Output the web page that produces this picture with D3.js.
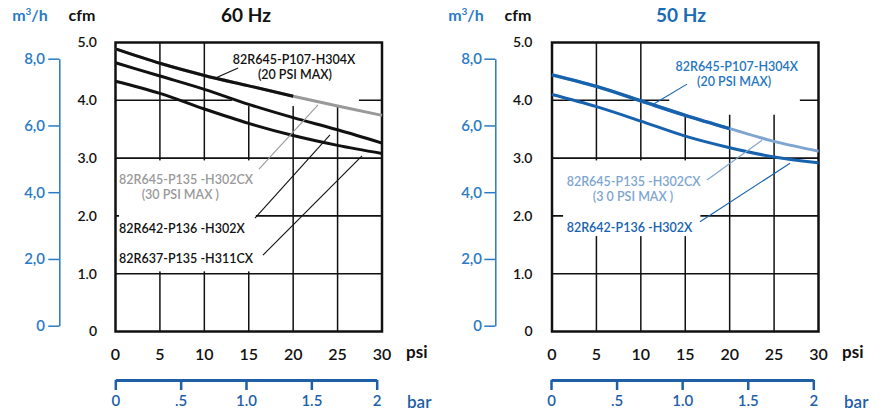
<!DOCTYPE html>
<html>
<head>
<meta charset="utf-8">
<script src="https://cdn.jsdelivr.net/npm/d3@7"></script>
<style>
  body { margin: 0; background: #fff; }
  svg text { font-family: Lato, "Noto Sans", sans-serif; }
</style>
</head>
<body>
<div id="chart"></div>
<script>
// Chart data (flow in cfm at each pressure in psi)
var psiPts = [0, 5, 10, 15, 20, 25, 30];
var psiTicks = [0, 5, 10, 15, 20, 25, 30];
var cfmTicks = [0, 1, 2, 3, 4, 5];
var cfmLbls = ["0", "1.0", "2.0", "3.0", "4.0", "5.0"];
var m3Ticks = [0, 2, 4, 6, 8];
var m3Lbls = ["0", "2,0", "4,0", "6,0", "8,0"];
var barTicks = [0, 0.5, 1, 1.5, 2];
var barLbls = ["0", ".5", "1.0", "1.5", "2"];

// 60 Hz
var hz60P107 = [4.89, 4.64, 4.43, 4.25, 4.07];            // 20 psi max
var hz60P135 = [4.89, 4.64, 4.43, 4.25, 4.07, 3.90, 3.74];
var hz60P136 = [4.65, 4.42, 4.19, 3.93, 3.70, 3.49, 3.26];
var hz60P311 = [4.33, 4.12, 3.85, 3.60, 3.39, 3.22, 3.08];

// 50 Hz
var hz50P107 = [4.44, 4.24, 3.99, 3.74, 3.51];            // 20 psi max
var hz50P135 = [4.44, 4.24, 3.99, 3.74, 3.51, 3.29, 3.12];
var hz50P136 = [4.10, 3.89, 3.64, 3.38, 3.18, 3.02, 2.92];

var black = "#111";
var gray = "#999";
var blue = "#1662ae";
var ltBlue = "#7ea5cf";
var txtBlue = "#2a7bc4";
var axBlue = "#1f5fa8";

var svg = d3.select("#chart").append("svg")
    .attr("width", 880)
    .attr("height", 414);

// panel settings
var panels = [
    {
        title: "60 Hz", titleColor: black, titleX: 246,
        xRange: [115.5, 382], barRange: [115.3, 376.7], m3X: 59.3,
        cfmLblX: 97, m3LblX: 45, cfmX: 82, m3TitleX: 30,
        psiX: 406, barX: 407,
        // white boxes behind labels [psi0, psi1, cfm0, cfm1]
        boxes: [[13.1, 27.4, 3.9, 5], [0.4, 15.8, 1.04, 2.96]],
        curves: [
            {vals: hz60P135, color: gray, w: 3},
            {vals: hz60P107, color: black, w: 3},
            {vals: hz60P136, color: black, w: 3},
            {vals: hz60P311, color: black, w: 3}
        ],
        leaders: [
            {p: [[13.8, 4.56], [11.2, 4.38]], color: black},
            {p: [[16.15, 2.81], [22.8, 3.92]], color: gray},
            {p: [[15.7, 1.96], [24.15, 3.40]], color: black},
            {p: [[16.6, 1.32], [27.75, 3.04]], color: black}
        ],
        labels: [
            {t: "82R645-P107-H304X", psi: 20.1, cfm: 4.7, color: black, anchor: "middle"},
            {t: "(20 PSI MAX)", psi: 20.2, cfm: 4.44, color: black, anchor: "middle"},
            {t: "82R645-P135 -H302CX", psi: 0.4, cfm: 2.62, color: gray, anchor: "start"},
            {t: "(30  PSI MAX )", psi: 2.95, cfm: 2.36, color: gray, anchor: "start"},
            {t: "82R642-P136 -H302X", psi: 0.4, cfm: 1.78, color: black, anchor: "start"},
            {t: "82R637-P135 -H311CX", psi: 0.4, cfm: 1.26, color: black, anchor: "start"}
        ]
    },
    {
        title: "50 Hz", titleColor: "#1a6bb5", titleX: 681,
        xRange: [552, 818.5], barRange: [551, 813.3], m3X: 495.3,
        cfmLblX: 532.5, m3LblX: 482, cfmX: 518, m3TitleX: 466,
        psiX: 842, barX: 844,
        boxes: [[13.2, 27.9, 3.75, 5], [1.25, 16.7, 1.65, 2.96]],
        curves: [
            {vals: hz50P135, color: ltBlue, w: 3},
            {vals: hz50P107, color: blue, w: 3.5},
            {vals: hz50P136, color: blue, w: 3}
        ],
        leaders: [
            {p: [[15.2, 4.28], [11.5, 3.94]], color: blue},
            {p: [[17.45, 2.62], [23.64, 3.31]], color: ltBlue},
            {p: [[16.66, 1.90], [26.8, 2.91]], color: blue}
        ],
        labels: [
            {t: "82R645-P107-H304X", psi: 20.8, cfm: 4.58, color: "#2575bf", anchor: "middle"},
            {t: "(20 PSI MAX)", psi: 20.5, cfm: 4.33, color: "#2575bf", anchor: "middle"},
            {t: "82R645-P135 -H302CX", psi: 1.65, cfm: 2.59, color: ltBlue, anchor: "start"},
            {t: "(3  0 PSI MAX  )", psi: 4.6, cfm: 2.33, color: ltBlue, anchor: "start"},
            {t: "82R642-P136 -H302X", psi: 1.65, cfm: 1.80, color: blue, anchor: "start"}
        ]
    }
];

panels.forEach(function(p) {
    var x = d3.scaleLinear().domain([0, 30]).range(p.xRange);
    var y = d3.scaleLinear().domain([0, 5]).range([331.5, 42.5]);
    var m3 = d3.scaleLinear().domain([0, 8]).range([325.7, 58.7]);
    var bar = d3.scaleLinear().domain([0, 2]).range(p.barRange);

    var g = svg.append("g");

    // grid
    g.selectAll(".vg").data(psiTicks.slice(1, -1)).enter().append("line")
        .attr("x1", d => x(d)).attr("x2", d => x(d))
        .attr("y1", y(5)).attr("y2", y(0))
        .attr("stroke", black).attr("stroke-width", 1.5);
    g.selectAll(".hg").data(cfmTicks.slice(1, -1)).enter().append("line")
        .attr("x1", x(0)).attr("x2", x(30))
        .attr("y1", d => y(d)).attr("y2", d => y(d))
        .attr("stroke", black).attr("stroke-width", 1.6);

    // white boxes under the labels
    g.selectAll(".box").data(p.boxes).enter().append("rect")
        .attr("x", d => x(d[0])).attr("width", d => x(d[1]) - x(d[0]))
        .attr("y", d => y(d[3])).attr("height", d => y(d[2]) - y(d[3]))
        .attr("fill", "#fff");

    // plot frame
    g.append("rect")
        .attr("x", x(0)).attr("y", y(5))
        .attr("width", x(30) - x(0)).attr("height", y(0) - y(5))
        .attr("fill", "none").attr("stroke", black).attr("stroke-width", 2.5);

    // curves
    var line = d3.line()
        .x((d, i) => x(psiPts[i]))
        .y(d => y(d))
        .curve(d3.curveMonotoneX);
    p.curves.forEach(function(c) {
        g.append("path")
            .attr("d", line(c.vals))
            .attr("fill", "none")
            .attr("stroke", c.color)
            .attr("stroke-width", c.w)
            .attr("stroke-linecap", "butt");
    });

    // leader lines
    p.leaders.forEach(function(l) {
        g.append("line")
            .attr("x1", x(l.p[0][0])).attr("y1", y(l.p[0][1]))
            .attr("x2", x(l.p[1][0])).attr("y2", y(l.p[1][1]))
            .attr("stroke", l.color).attr("stroke-width", 1.1);
    });

    // curve labels
    p.labels.forEach(function(l) {
        g.append("text")
            .attr("x", x(l.psi)).attr("y", y(l.cfm))
            .attr("dy", "0.35em")
            .attr("text-anchor", l.anchor)
            .attr("fill", l.color)
            .attr("font-size", 12.5)
            .attr("font-weight", 600)
            .text(l.t);
    });

    // cfm tick labels
    g.selectAll(".cfmLbl").data(cfmTicks).enter().append("text")
        .attr("x", p.cfmLblX).attr("y", d => y(d))
        .attr("dy", "0.35em")
        .attr("text-anchor", "end")
        .attr("fill", black)
        .attr("font-size", 14)
        .attr("font-weight", 600)
        .text((d, i) => cfmLbls[i]);

    // psi tick labels
    g.selectAll(".psiLbl").data(psiTicks).enter().append("text")
        .attr("x", d => x(d)).attr("y", 360)
        .attr("text-anchor", "middle")
        .attr("fill", black)
        .attr("font-size", 16)
        .attr("font-weight", 600)
        .text(d => d);

    g.append("text").attr("x", p.psiX).attr("y", 358)
        .attr("fill", black).attr("font-size", 17).attr("font-weight", "bold")
        .text("psi");

    // m3/h axis
    var m3Axis = g.append("g").attr("transform", `translate(${p.m3X},0)`)
        .call(d3.axisLeft(m3).tickValues(m3Ticks).tickSize(11).tickSizeOuter(0)
            .tickFormat((d, i) => m3Lbls[i]));
    m3Axis.select(".domain").attr("stroke", txtBlue).attr("stroke-width", 1.5);
    m3Axis.selectAll(".tick line").attr("stroke", txtBlue).attr("stroke-width", 1.5);
    m3Axis.selectAll(".tick text")
        .attr("x", p.m3LblX - p.m3X)
        .attr("fill", txtBlue)
        .attr("font-size", 15)
        .attr("font-weight", 600)
        .attr("font-family", "Lato, sans-serif");

    // bar axis
    var barAxis = g.append("g").attr("transform", "translate(0,380)")
        .call(d3.axisBottom(bar).tickValues(barTicks).tickSize(10).tickSizeOuter(0)
            .tickFormat((d, i) => barLbls[i]));
    barAxis.select(".domain").attr("stroke", axBlue).attr("stroke-width", 3);
    barAxis.selectAll(".tick line").attr("stroke", axBlue).attr("stroke-width", 2.5);
    barAxis.selectAll(".tick text")
        .attr("y", 15)
        .attr("fill", axBlue)
        .attr("font-size", 15)
        .attr("font-weight", 600)
        .attr("font-family", "Lato, sans-serif");

    g.append("text").attr("x", p.barX).attr("y", 408)
        .attr("fill", axBlue).attr("font-size", 17).attr("font-weight", 600)
        .text("bar");

    // titles
    g.append("text").attr("x", p.titleX).attr("y", 22)
        .attr("text-anchor", "middle")
        .attr("fill", p.titleColor).attr("font-size", 19).attr("font-weight", "bold")
        .text(p.title);
    g.append("text").attr("x", p.cfmX).attr("y", 21)
        .attr("text-anchor", "middle")
        .attr("fill", black).attr("font-size", 16).attr("font-weight", "bold")
        .text("cfm");
    var m3t = g.append("text").attr("x", p.m3TitleX).attr("y", 21)
        .attr("text-anchor", "middle")
        .attr("fill", txtBlue).attr("font-size", 16).attr("font-weight", "bold");
    m3t.append("tspan").text("m");
    m3t.append("tspan").attr("dy", -6).attr("font-size", 10).text("3");
    m3t.append("tspan").attr("dy", 6).text("/h");
});
</script>
</body>
</html>
